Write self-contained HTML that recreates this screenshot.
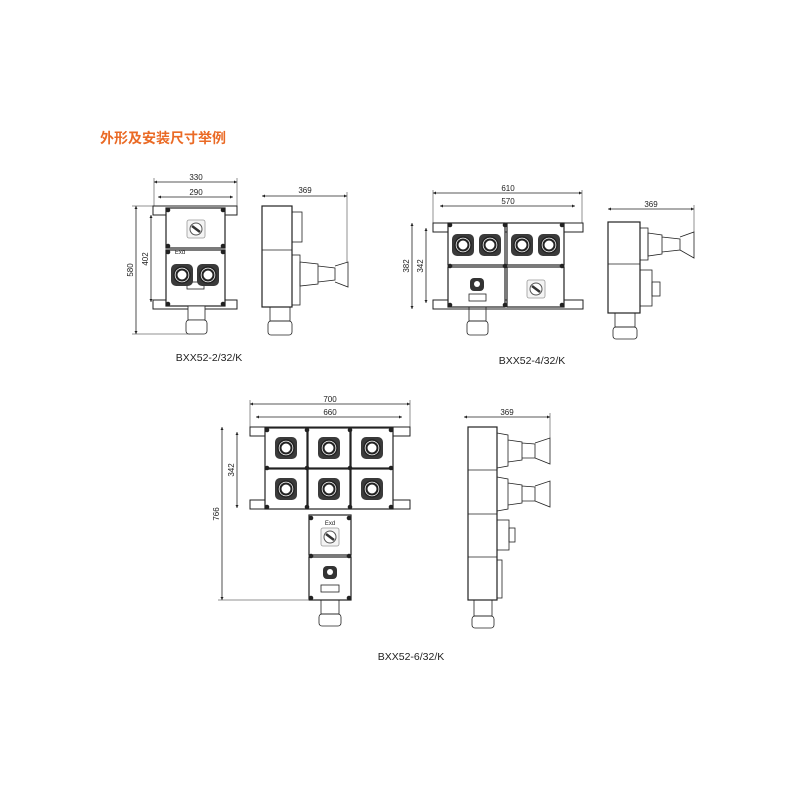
<!DOCTYPE html>
<html><head><meta charset="utf-8"><style>
body{margin:0;background:#fff;}
svg{display:block;font-family:"Liberation Sans",sans-serif;}
.t{font-family:"Liberation Sans","Noto Sans CJK SC",sans-serif;}
</style></head><body>
<svg width="800" height="800" viewBox="0 0 800 800" xmlns="http://www.w3.org/2000/svg">
<defs>
<marker id="a" viewBox="0 0 6 6" refX="6" refY="3" markerWidth="4" markerHeight="4" orient="auto-start-reverse"><path d="M0,0L6,3L0,6z" fill="#222"/></marker>
<g id="knob"><rect x="-11" y="-11" width="22" height="22" rx="5" fill="#3a3a3a"/><circle r="8" fill="#fff" stroke="#222" stroke-width="1.5"/><circle r="5.5" fill="#fff" stroke="#222" stroke-width="2"/></g>
<g id="sw"><rect x="-9" y="-9" width="18" height="18" rx="2" fill="#f4f4f4" stroke="#999" stroke-width=".8"/><circle r="6" fill="#fff" stroke="#555"/><path d="M-4,-3L4,3" stroke="#333" stroke-width="2.5"/></g>
<g id="bolt"><circle r="2.3" fill="#222"/></g>
</defs>
<text x="100" y="143" class="t" font-size="14" font-weight="bold" fill="#ea6a25">外形及安装尺寸举例</text>
<g stroke="#222" fill="none" stroke-width="0.8" font-size="9" >
<!-- ===== Diagram 1 ===== -->
<line x1="154" y1="182" x2="237" y2="182" marker-start="url(#a)" marker-end="url(#a)"/>
<line x1="158" y1="197" x2="233" y2="197" marker-start="url(#a)" marker-end="url(#a)"/>
<line x1="154" y1="178" x2="154" y2="206" stroke-width=".5"/><line x1="237" y1="178" x2="237" y2="206" stroke-width=".5"/>
<line x1="136" y1="206" x2="136" y2="334" marker-start="url(#a)" marker-end="url(#a)"/>
<line x1="151" y1="215" x2="151" y2="302" marker-start="url(#a)" marker-end="url(#a)"/>
<line x1="132" y1="206" x2="154" y2="206" stroke-width=".5"/><line x1="132" y1="334" x2="190" y2="334" stroke-width=".5"/>
<rect x="153" y="206" width="84" height="9" stroke-width="1"/>
<rect x="153" y="300" width="84" height="9" stroke-width="1"/>
<rect x="166" y="208" width="59" height="40" fill="#fff" stroke-width="1.2"/>
<rect x="166" y="250" width="59" height="56" fill="#fff" stroke-width="1.2"/>
<rect x="188" y="306" width="17" height="14" fill="#fff"/>
<rect x="186" y="320" width="21" height="14" rx="3" fill="#fff"/>
<rect x="187" y="282" width="17" height="7"/>
<rect x="262" y="206" width="30" height="101" stroke-width="1.2"/>
<line x1="262" y1="250" x2="292" y2="250"/>
<rect x="292" y="212" width="10" height="30"/>
<rect x="292" y="255" width="8" height="50"/>
<path d="M300,262 L318,264 L318,284 L300,286 Z M318,266 L335,268 L335,280 L318,282 M335,266 L348,262 L348,287 L335,282"/>
<rect x="270" y="307" width="20" height="14"/><rect x="268" y="321" width="24" height="14" rx="3"/>
<line x1="262" y1="196" x2="347" y2="196" marker-start="url(#a)" marker-end="url(#a)"/>
<line x1="347" y1="192" x2="347" y2="262" stroke-width=".5"/>
<!-- ===== Diagram 2 ===== -->
<line x1="433" y1="193" x2="582" y2="193" marker-start="url(#a)" marker-end="url(#a)"/>
<line x1="440" y1="206" x2="575" y2="206" marker-start="url(#a)" marker-end="url(#a)"/>
<line x1="433" y1="190" x2="433" y2="223" stroke-width=".5"/><line x1="582" y1="190" x2="582" y2="223" stroke-width=".5"/>
<line x1="412" y1="223" x2="412" y2="309" marker-start="url(#a)" marker-end="url(#a)"/>
<line x1="426" y1="228" x2="426" y2="303" marker-start="url(#a)" marker-end="url(#a)"/>
<rect x="433" y="223" width="150" height="9" stroke-width="1"/>
<rect x="433" y="300" width="150" height="9" stroke-width="1"/>
<rect x="448" y="223" width="57" height="42" fill="#fff" stroke-width="1.2"/>
<rect x="507" y="223" width="57" height="42" fill="#fff" stroke-width="1.2"/>
<rect x="448" y="267" width="57" height="40" fill="#fff" stroke-width="1.2"/>
<rect x="507" y="267" width="57" height="40" fill="#fff" stroke-width="1.2"/>
<rect x="469" y="294" width="17" height="7"/>
<rect x="469" y="307" width="17" height="14"/><rect x="467" y="321" width="21" height="14" rx="3"/>
<rect x="608" y="222" width="32" height="91" stroke-width="1.2"/>
<line x1="608" y1="264" x2="640" y2="264"/>
<rect x="640" y="228" width="8" height="32"/>
<path d="M648,233 L662,235 L662,254 L648,256 Z M662,237 L680,239 L680,250 L662,252 M680,237 L694,232 L694,258 L680,250"/>
<rect x="640" y="270" width="12" height="36"/><rect x="652" y="282" width="8" height="14"/>
<rect x="615" y="313" width="20" height="14"/><rect x="613" y="327" width="24" height="12" rx="3"/>
<line x1="608" y1="209" x2="694" y2="209" marker-start="url(#a)" marker-end="url(#a)"/>
<line x1="694" y1="205" x2="694" y2="232" stroke-width=".5"/>
<!-- ===== Diagram 3 ===== -->
<line x1="250" y1="404" x2="410" y2="404" marker-start="url(#a)" marker-end="url(#a)"/>
<line x1="256" y1="417" x2="402" y2="417" marker-start="url(#a)" marker-end="url(#a)"/>
<line x1="250" y1="400" x2="250" y2="427" stroke-width=".5"/><line x1="410" y1="400" x2="410" y2="427" stroke-width=".5"/>
<line x1="222" y1="427" x2="222" y2="600" marker-start="url(#a)" marker-end="url(#a)"/>
<line x1="237" y1="432" x2="237" y2="508" marker-start="url(#a)" marker-end="url(#a)"/>
<line x1="218" y1="600" x2="308" y2="600" stroke-width=".5"/>
<rect x="250" y="427" width="160" height="9" stroke-width="1"/>
<rect x="250" y="500" width="160" height="9" stroke-width="1"/>
<rect x="265" y="428" width="42" height="40" fill="#fff" stroke-width="1.2"/>
<rect x="308" y="428" width="42" height="40" fill="#fff" stroke-width="1.2"/>
<rect x="351" y="428" width="42" height="40" fill="#fff" stroke-width="1.2"/>
<rect x="265" y="469" width="42" height="40" fill="#fff" stroke-width="1.2"/>
<rect x="308" y="469" width="42" height="40" fill="#fff" stroke-width="1.2"/>
<rect x="351" y="469" width="42" height="40" fill="#fff" stroke-width="1.2"/>
<rect x="309" y="515" width="42" height="40" fill="#fff" stroke-width="1.2"/>
<rect x="309" y="557" width="42" height="43" fill="#fff" stroke-width="1.2"/>
<rect x="321" y="585" width="18" height="7"/>
<rect x="321" y="600" width="18" height="14"/><rect x="319" y="614" width="22" height="12" rx="3"/>
<rect x="468" y="427" width="29" height="173" stroke-width="1.2"/>
<line x1="468" y1="470" x2="497" y2="470"/><line x1="468" y1="514" x2="497" y2="514"/><line x1="468" y1="557" x2="497" y2="557"/>
<path d="M497,433 L508,435 L508,466 L497,468 M508,440 L522,442 L522,460 L508,462 M522,443 L535,444 L535,458 L522,458 M535,443 L550,438 L550,464 L535,458"/>
<path d="M497,477 L508,479 L508,509 L497,511 M508,483 L522,485 L522,503 L508,505 M522,486 L535,487 L535,501 L522,501 M535,486 L550,481 L550,507 L535,501"/>
<rect x="497" y="520" width="12" height="30"/><rect x="509" y="528" width="6" height="14"/>
<rect x="497" y="560" width="5" height="38"/>
<rect x="474" y="600" width="18" height="16"/><rect x="472" y="616" width="22" height="12" rx="3"/>
<line x1="464" y1="417" x2="550" y2="417" marker-start="url(#a)" marker-end="url(#a)"/>
<line x1="550" y1="413" x2="550" y2="438" stroke-width=".5"/>
</g>
<!-- knobs & switches -->
<use href="#knob" x="182" y="275"/><use href="#knob" x="208" y="275"/>
<use href="#sw" x="196" y="229"/>
<use href="#knob" x="463" y="245"/><use href="#knob" x="490" y="245"/><use href="#knob" x="522" y="245"/><use href="#knob" x="549" y="245"/>
<use href="#sw" x="536" y="289"/>
<rect x="470" y="278" width="14" height="13" rx="4" fill="#333"/><circle cx="477" cy="284" r="3" fill="#fff"/>
<use href="#knob" x="286" y="448"/><use href="#knob" x="329" y="448"/><use href="#knob" x="372" y="448"/>
<use href="#knob" x="286" y="489"/><use href="#knob" x="329" y="489"/><use href="#knob" x="372" y="489"/>
<use href="#sw" x="330" y="537"/>
<rect x="323" y="566" width="14" height="13" rx="4" fill="#333"/><circle cx="330" cy="572" r="3" fill="#fff"/>
<g fill="#222">
<use href="#bolt" x="168" y="210"/><use href="#bolt" x="223" y="210"/><use href="#bolt" x="168" y="246"/><use href="#bolt" x="223" y="246"/>
<use href="#bolt" x="168" y="252"/><use href="#bolt" x="223" y="252"/><use href="#bolt" x="168" y="304"/><use href="#bolt" x="223" y="304"/>
<use href="#bolt" x="450" y="225"/><use href="#bolt" x="505" y="225"/><use href="#bolt" x="562" y="225"/><use href="#bolt" x="450" y="266"/><use href="#bolt" x="505" y="266"/><use href="#bolt" x="562" y="266"/><use href="#bolt" x="450" y="305"/><use href="#bolt" x="505" y="305"/><use href="#bolt" x="562" y="305"/>
<use href="#bolt" x="267" y="430"/><use href="#bolt" x="307" y="430"/><use href="#bolt" x="350" y="430"/><use href="#bolt" x="391" y="430"/>
<use href="#bolt" x="267" y="468"/><use href="#bolt" x="307" y="468"/><use href="#bolt" x="350" y="468"/><use href="#bolt" x="391" y="468"/>
<use href="#bolt" x="267" y="507"/><use href="#bolt" x="307" y="507"/><use href="#bolt" x="350" y="507"/><use href="#bolt" x="391" y="507"/>
<use href="#bolt" x="311" y="518"/><use href="#bolt" x="349" y="518"/><use href="#bolt" x="311" y="556"/><use href="#bolt" x="349" y="556"/><use href="#bolt" x="311" y="598"/><use href="#bolt" x="349" y="598"/>
</g>
<g font-size="8" fill="#222" text-anchor="middle">
<text x="196" y="180">330</text><text x="196" y="195">290</text><text x="305" y="193">369</text>
<text transform="translate(133,270) rotate(-90)">580</text><text transform="translate(148,259) rotate(-90)">402</text>
<text x="508" y="191">610</text><text x="508" y="204">570</text><text x="651" y="207">369</text>
<text transform="translate(409,266) rotate(-90)">382</text><text transform="translate(423,266) rotate(-90)">342</text>
<text x="330" y="402">700</text><text x="330" y="415">660</text><text x="507" y="415">369</text>
<text transform="translate(219,514) rotate(-90)">766</text><text transform="translate(234,470) rotate(-90)">342</text>
<text x="180" y="254" font-size="6">Exd</text><text x="330" y="525" font-size="6">Exd</text>
</g>
<g font-size="10.5" fill="#222" text-anchor="middle">
<text x="209" y="361">BXX52-2/32/K</text>
<text x="532" y="364">BXX52-4/32/K</text>
<text x="411" y="660">BXX52-6/32/K</text>
</g>
</svg>
</body></html>
